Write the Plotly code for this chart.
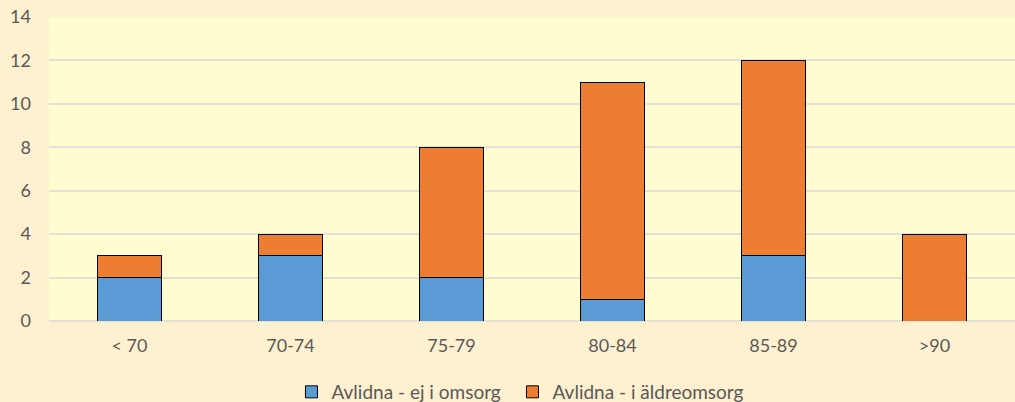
import plotly.graph_objects as go

categories = ["< 70", "70-74", "75-79", "80-84", "85-89", ">90"]
ej_i_omsorg = [2, 3, 2, 1, 3, 0]
i_aldreomsorg = [1, 1, 6, 10, 9, 4]
series_names = ["Avlidna - ej i omsorg", "Avlidna - i äldreomsorg"]
y_ticks = [0, 2, 4, 6, 8, 10, 12, 14]

font_family = "Lato, 'Open Sans', sans-serif"
text_color = "#595959"

fig = go.Figure()
fig.add_trace(go.Bar(x=categories, y=ej_i_omsorg, name=series_names[0], legend="legend",
                     showlegend=True,
                     marker=dict(color="#5B9BD5", line=dict(color="#000000", width=1))))
fig.add_trace(go.Bar(x=categories, y=i_aldreomsorg, name=series_names[1], legend="legend2",
                     showlegend=True,
                     marker=dict(color="#ED7D31", line=dict(color="#000000", width=1))))

legend_common = dict(orientation="h", xanchor="left", y=-0.171, yanchor="top",
                     font=dict(size=19, color=text_color), bgcolor="rgba(0,0,0,0)")

fig.update_layout(
    showlegend=True,
    barmode="stack",
    bargap=0.6,
    width=1015, height=402,
    margin=dict(l=49, r=0, t=17, b=81, autoexpand=False),
    paper_bgcolor="#FFF0D0",
    plot_bgcolor="#FFFDD0",
    font=dict(family=font_family, size=18, color=text_color),
    legend=dict(x=0.251, **legend_common),
    legend2=dict(x=0.4798, **legend_common),
    xaxis=dict(showgrid=False, showline=False, ticks="", tickfont=dict(size=18),
               ticklabelstandoff=12),
    yaxis=dict(range=[0, 14], tickvals=y_ticks, showgrid=True, gridcolor="#E3E1D6",
               gridwidth=1.5, zeroline=True, zerolinecolor="#E3E1D6", zerolinewidth=1.5,
               tickfont=dict(size=18), ticks="", showline=False, ticklabelstandoff=17),
)

fig.write_html("out.html", config={"displayModeBar": False},
               post_script="document.body.style.margin='0';document.body.style.overflow='hidden';")
